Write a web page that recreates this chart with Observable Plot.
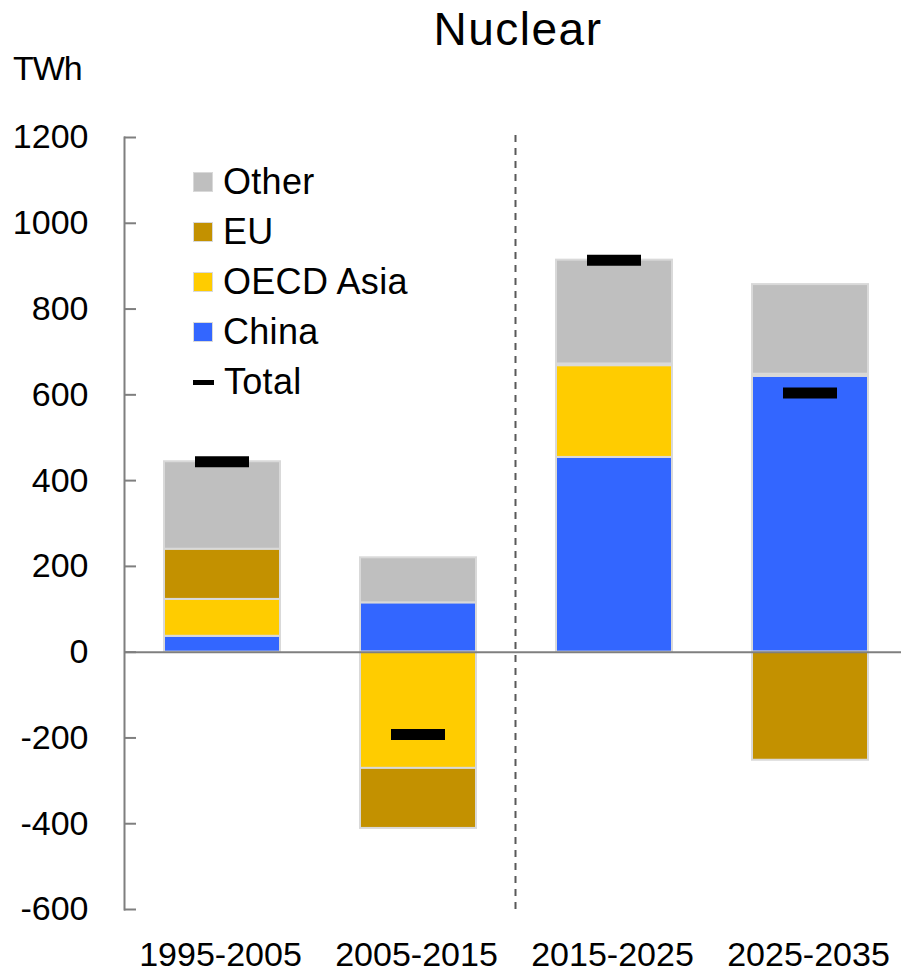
<!DOCTYPE html>
<html>
<head>
<meta charset="utf-8">
<script src="https://cdn.jsdelivr.net/npm/d3@7"></script>
<script src="https://cdn.jsdelivr.net/npm/@observablehq/plot@0.6"></script>
<style>
  html, body { margin: 0; padding: 0; background: #fff; }
  #wrap { position: relative; width: 901px; height: 973px; font-family: "Liberation Sans", Arial, sans-serif; color: #000; overflow: hidden; }
  #chart { position: absolute; left: 0; top: 0; }
  .title { position: absolute; top: 6px; left: 518px; transform: translateX(-50%); font-size: 46px; line-height: 1; white-space: nowrap; letter-spacing: 1.5px; }
  .unit { position: absolute; top: 51px; left: 13px; font-size: 34px; line-height: 1; letter-spacing: -1px; }
  .legend { position: absolute; left: 193px; top: 157px; }
  .legend .row { display: flex; align-items: center; height: 50px; font-size: 36px; line-height: 50px; white-space: nowrap; letter-spacing: 0.3px; }
  .legend .sw { width: 18px; height: 18px; border: 1.5px solid #D9D9D9; margin-right: 10px; }
  .legend .ln { width: 21px; height: 5px; background: #000; margin-right: 10px; }
</style>
</head>
<body>
<div id="wrap">
  <div id="chart"></div>
  <div class="title">Nuclear</div>
  <div class="unit">TWh</div>
  <div class="legend" id="legend"></div>
</div>
<script>
const periods = ["1995-2005", "2005-2015", "2015-2025", "2025-2035"];
const seriesNames = ["China", "OECD Asia", "EU", "Other"];
const seriesColors = ["#3366FF", "#FFCC00", "#C39100", "#BFBFBF"];
const china = [37, 115, 454, 643];
const oecdAsia = [86, -271, 214, 5];
const eu = [117, -140, 4, -252];
const other = [204, 105, 242, 209];
const total = [444, -192, 914, 604];
const yTicks = [1200, 1000, 800, 600, 400, 200, 0, -200, -400, -600];
const legendOrder = ["Other", "EU", "OECD Asia", "China"];

const seriesValues = {"China": china, "OECD Asia": oecdAsia, "EU": eu, "Other": other};
const rows = [];
for (const s of seriesNames) {
  periods.forEach((p, i) => rows.push({period: p, series: s, value: seriesValues[s][i]}));
}
const totals = periods.map((p, i) => ({period: p, total: total[i]}));

const W = 901, H = 973;
const xRange = [124, 908];
const step = (xRange[1] - xRange[0]) / periods.length;

const plot = Plot.plot({
  width: W,
  height: H,
  marginTop: 137,
  marginBottom: 64,
  marginLeft: 124,
  marginRight: 0,
  style: {fontFamily: "'Liberation Sans', Arial, sans-serif", background: "white", overflow: "visible"},
  x: {domain: periods, range: xRange, paddingInner: 0.41, paddingOuter: 0.205, label: null},
  y: {domain: [-600, 1200], label: null},
  color: {domain: seriesNames, range: seriesColors},
  marks: [
    Plot.frame({anchor: "left", stroke: "#7F7F7F", strokeWidth: 2}),
    Plot.ruleX(["2015-2025"], {dx: -step / 2 - 1, y1: -600, y2: 1212, stroke: "#595959", strokeWidth: 2, strokeDasharray: "7,6"}),
    Plot.barY(rows, {x: "period", y: "value", fill: "series", stroke: "#D9D9D9", strokeWidth: 2}),
    Plot.ruleY([0], {stroke: "#7F7F7F", strokeWidth: 2}),
    Plot.tickY(totals, {x: "period", y: "total", stroke: "#000", strokeWidth: 11, insetLeft: 31, insetRight: 31}),
    Plot.axisY({ticks: yTicks, tickSize: -12, tickPadding: 48, stroke: "#7F7F7F", strokeWidth: 2, fill: "#000", fontSize: 34, tickFormat: d => String(d)}),
    Plot.axisX({tickSize: 0, tickPadding: 32, fill: "#000", fontSize: 34, dx: -2})
  ]
});
document.getElementById("chart").appendChild(plot);

const colorOf = Object.fromEntries(seriesNames.map((s, i) => [s, seriesColors[i]]));
const legend = document.getElementById("legend");
for (const s of legendOrder) {
  const r = document.createElement("div");
  r.className = "row";
  r.innerHTML = `<span class="sw" style="background:${colorOf[s]}"></span><span>${s}</span>`;
  legend.appendChild(r);
}
const tr = document.createElement("div");
tr.className = "row";
tr.innerHTML = `<span class="ln"></span><span>Total</span>`;
legend.appendChild(tr);
</script>
</body>
</html>
